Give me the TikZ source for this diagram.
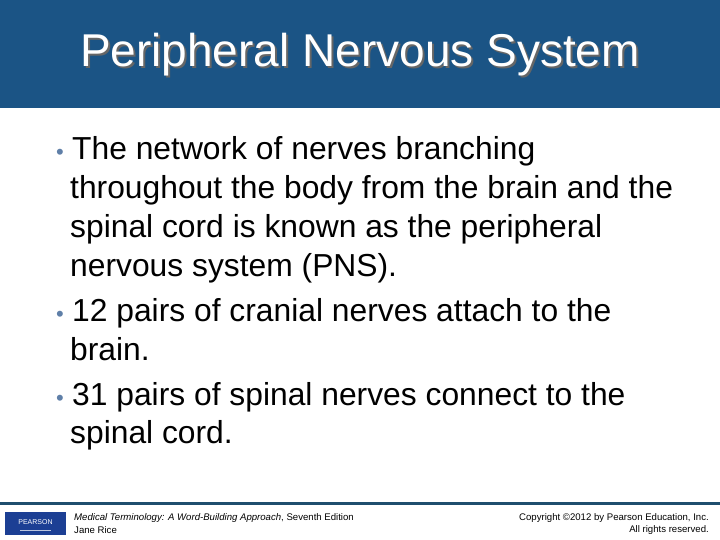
\documentclass[tikz,border=0pt]{standalone}
\usepackage{fontspec}
\setmainfont{Liberation Sans}
\definecolor{barblue}{HTML}{1B5485}
\definecolor{bulletc}{HTML}{5F7FA8}
\definecolor{rulec}{HTML}{1F4E6E}
\definecolor{pblue}{HTML}{1C3F94}
\begin{document}
\begin{tikzpicture}[x=1pt,y=-1pt,
  body/.style={anchor=base west,inner sep=0pt,font=\fontsize{31.8}{34}\selectfont},
  bul/.style={anchor=base west,inner sep=0pt,text=bulletc,font=\fontsize{22}{24}\selectfont},
  foot/.style={inner sep=0pt,font=\fontsize{9.6}{11}\selectfont}]
\useasboundingbox (0,0) rectangle (720,540);
\fill[white] (0,0) rectangle (720,540);
\fill[barblue] (0,0) rectangle (720,108);
\node[text=black!60,font=\fontsize{46}{50}\selectfont] at (362,57) {Peripheral Nervous System};
\node[text=white,font=\fontsize{46}{50}\selectfont] (title) at (360,55) {Peripheral Nervous System};
\node[bul] (b1) at (56,160) {•};
\node[body] (l1) at (72,160) {The network of nerves branching};
\node[body] (l2) at (70,199) {throughout the body from the brain and the};
\node[body] (l3) at (70,237) {spinal cord is known as the peripheral};
\node[body] (l4) at (70,276) {nervous system (PNS).};
\node[bul] (b2) at (56,321) {•};
\node[body] (l5) at (72,321) {12 pairs of cranial nerves attach to the};
\node[body] (l6) at (70,360) {brain.};
\node[bul] (b3) at (56,405) {•};
\node[body] (l7) at (72,405) {31 pairs of spinal nerves connect to the};
\node[body] (l8) at (70,443) {spinal cord.};
\fill[rulec] (0,502) rectangle (720,505);
\fill[pblue] (5,512) rectangle (66,535);
\node[text=white,font=\fontsize{7}{8}\selectfont,inner sep=0pt] (logo) at (35.5,522) {PEARSON};
\draw[white!70!pblue,line width=0.5pt] (20,530) -- (51,530);
\node[foot,anchor=west] (f1) at (74,518) {\textit{Medical Terminology: A Word-Building Approach}, Seventh Edition};
\node[foot,anchor=west] (f2) at (74,530) {Jane Rice};
\node[foot,anchor=east] (f3) at (709,518) {Copyright ©2012 by Pearson Education, Inc.};
\node[foot,anchor=east] (f4) at (709,530) {All rights reserved.};
\end{tikzpicture}
\end{document}
